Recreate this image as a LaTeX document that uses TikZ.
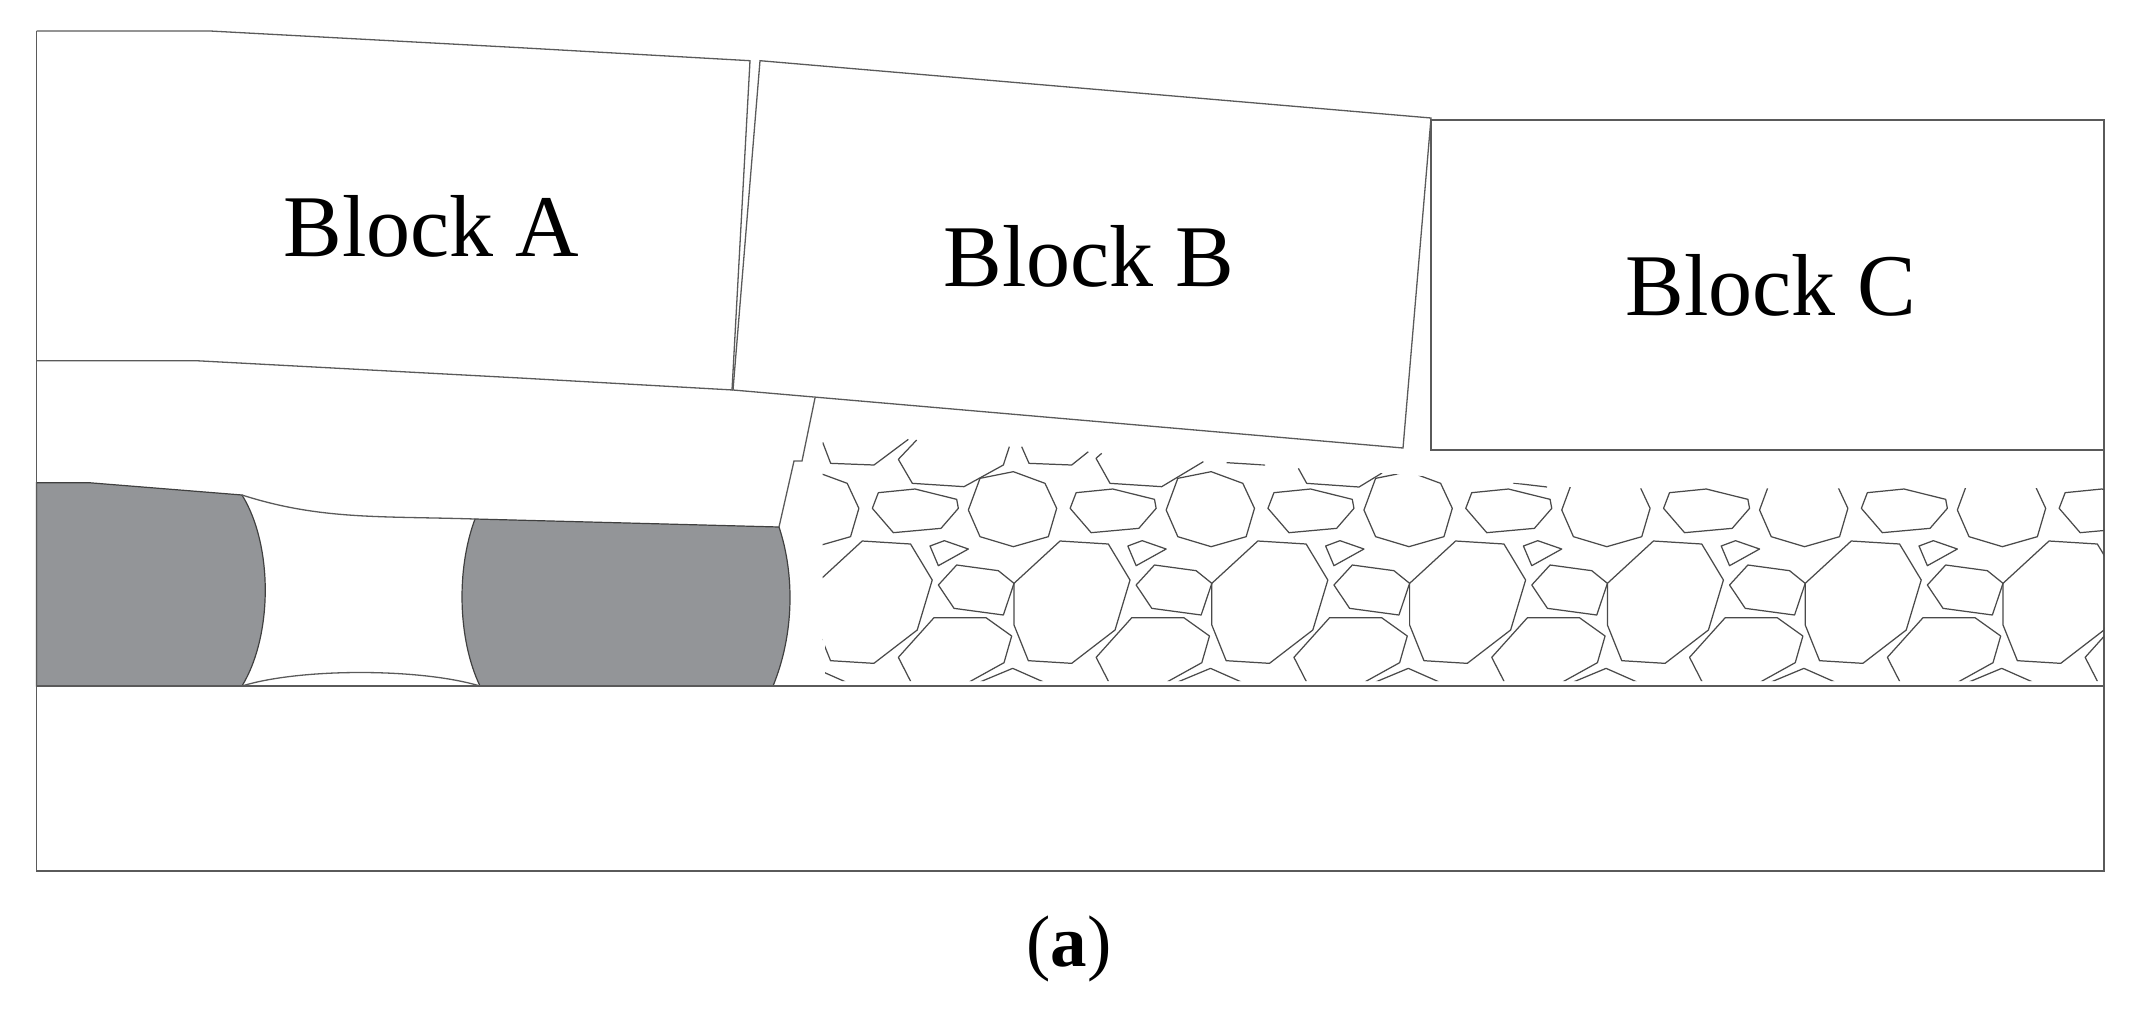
\documentclass[tikz,border=0pt]{standalone}
\usepackage{fontspec}
\setmainfont{Liberation Serif}
\definecolor{pillar}{HTML}{939598}
\definecolor{edge}{HTML}{5A5A5A}
\definecolor{rock}{HTML}{4A4A4A}
\tikzset{
  strata/.style={draw=edge,line width=0.9pt,line join=miter},
  seam/.style={draw=edge,line width=0.65pt},
  pillarfill/.style={fill=pillar,draw=black!75,line width=0.6pt},
  rockline/.style={draw=rock,line width=0.62pt,line join=round},
  blocklabel/.style={anchor=base west,inner sep=0pt,font=\fontsize{44}{50}\selectfont},
}
\begin{document}
\begin{tikzpicture}[x=0.5pt,y=-0.5pt]
\useasboundingbox (0,0) rectangle (2145,1017);
% gray pillars
\path[pillarfill] (36.5,482.7) -- (89,482.7) -- (242,495)
  .. controls (273,545) and (273,635) .. (242,686) -- (36.5,686) -- cycle;
\path[pillarfill] (475,519) -- (779,527)
  .. controls (795,575) and (794,635) .. (773,686) -- (480,686)
  .. controls (458,640) and (456,570) .. (475,519) -- cycle;
% void outlines
\draw[seam] (242,495) .. controls (320,520) and (380,516) .. (475,519);
\draw[seam] (242,686) .. controls (300,668) and (420,668) .. (480,686);
% outer frame and strata
\draw[strata] (36.5,31) -- (36.5,871) -- (2104,871) -- (2104,120) -- (1431,120) -- (1431,450) -- (2104,450);
\draw[strata] (36.5,686) -- (2104,686);
\draw[seam] (36.5,31) -- (210,31) -- (520,47.7) -- (750,60.7) -- (732,390);
\draw[seam] (36.5,360.7) -- (196,360.7) -- (520,378) -- (733,390);
\draw[seam] (733,390) -- (760,60.7) -- (1431,118) -- (1403,448) -- cycle;
% caving edge of the immediate roof
\draw[seam] (815,398) -- (802,461) -- (794,461) -- (779,527);
% caved rock
\begin{scope}
\clip (822.5,438) -- (905,438) -- (1590,488.5) -- (2104,488) -- (2104,681) -- (825,681) -- (825,640) -- (822.5,640) -- cycle;
\begin{scope}[shift={(810,420)},x=0.16667pt,y=-0.16667pt]
  \draw[rockline] (38,67) -- (62,130) -- (192,135) -- (295,58);
  \draw[rockline] (320,60) -- (265,118) -- (307,190) -- (462,200) -- (580,135) -- (598,80);
  \draw[rockline] (635,80) -- (657,130) -- (785,135) -- (835,95);
  \draw[rockline] (875,100) -- (858,115) -- (900,190) -- (1055,200) -- (1180,125);
  \draw[rockline] (1250,128) -- (1365,135);
  \draw[rockline] (1465,145) -- (1490,190) -- (1647,201) -- (1716,159);
  \draw[rockline] (2109,189) -- (2211,201);
  \foreach \i in {-1,...,6} {
    \begin{scope}[xshift=\i*98.9pt]
      % round stone of the upper row
      \draw[rockline] (510,175) -- (610,155) -- (705,190) -- (740,265) -- (715,350) -- (610,380) -- (510,350) -- (475,270) -- cycle;
      % flat stone of the upper row
      \draw[rockline] (205,218) -- (315,207) -- (440,238) -- (445,265) -- (393,325) -- (250,338) -- (187,265) -- cycle;
      % small wedge
      \draw[rockline] (360,378) -- (403,362) -- (475,387) -- (385,437) -- cycle;
      % medium stone
      \draw[rockline] (440,435) -- (565,452) -- (612,490) -- (580,585) -- (432,565) -- (385,495) -- cycle;
      % big stone
      \draw[rockline] (612,490) -- (750,363) -- (895,372) -- (960,480) -- (915,630) -- (785,730) -- (655,722) -- (612,615) -- cycle;
      % lower stone
      \draw[rockline] (305,790) -- (265,712) -- (372,593) -- (528,593) -- (605,648) -- (582,728) -- (470,790);
      % top of the bottom row
      \draw[rockline] (500,790) -- (608,745) -- (710,790);
    \end{scope}
  }
\end{scope}
\end{scope}
% labels
\node[blocklabel] (blockA) at (283,256) {Block A};
\node[blocklabel] (blockB) at (943,286) {Block B};
\node[blocklabel] (blockC) at (1625,315) {Block C};
\node[anchor=base,inner sep=0pt,font=\fontsize{36.5}{40}\selectfont] (caption) at (1069,966) {(\textbf{a})};
\end{tikzpicture}
\end{document}
